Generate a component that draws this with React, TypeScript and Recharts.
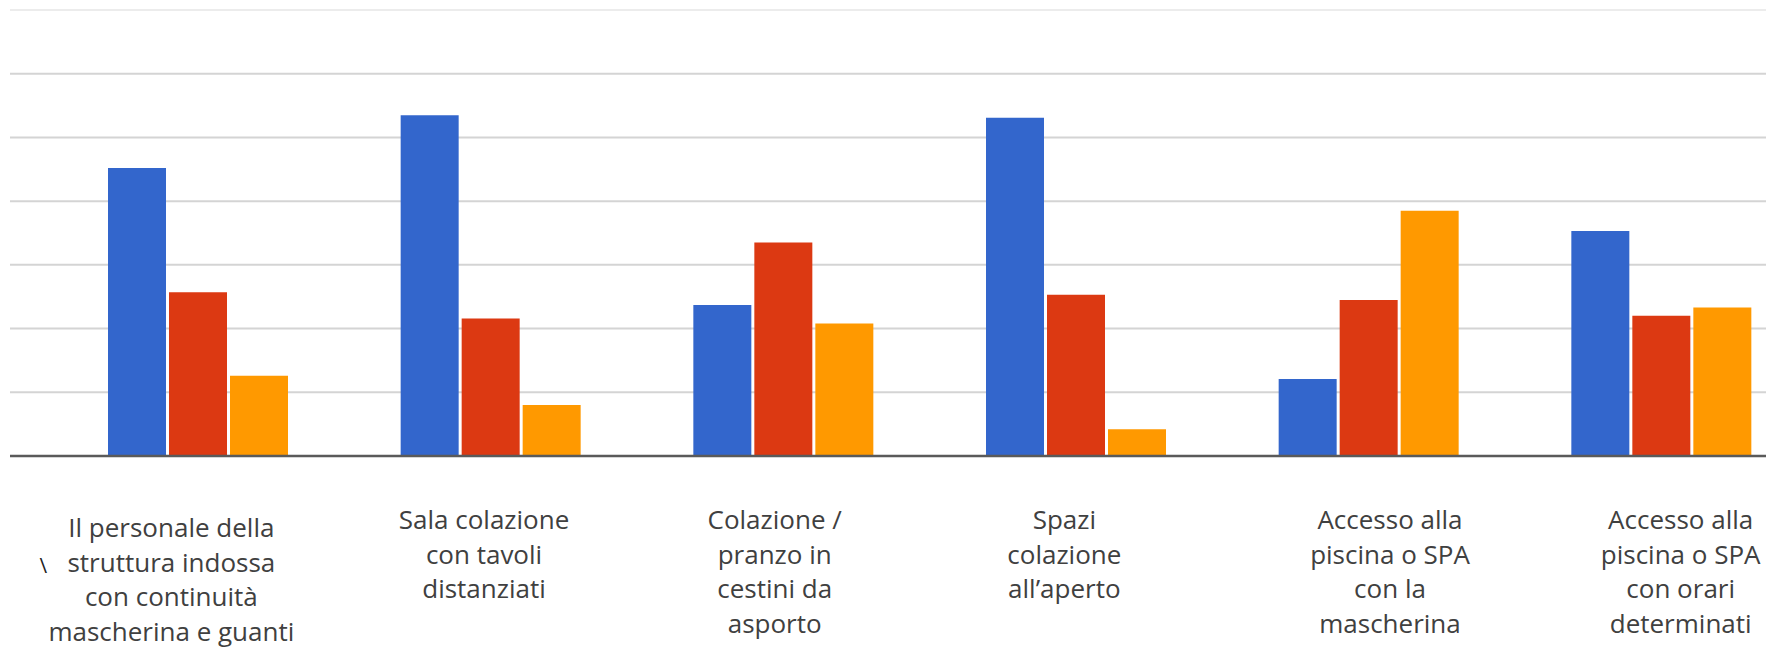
import React from 'react';
import { BarChart, Bar, XAxis, YAxis, CartesianGrid, ReferenceLine } from 'recharts';

// categories (label lines)
const categories: string[][] = [
    ['Il personale della', 'struttura indossa', 'con continuità', 'mascherina e guanti'],
    ['Sala colazione', 'con tavoli', 'distanziati'],
    ['Colazione /', 'pranzo in', 'cestini da', 'asporto'],
    ['Spazi', 'colazione', 'all\u2019aperto'],
    ['Accesso alla', 'piscina o SPA', 'con la', 'mascherina'],
    ['Accesso alla', 'piscina o SPA', 'con orari', 'determinati'],
];

// series values
const blueValues = [45.2, 53.5, 23.7, 53.1, 12.1, 35.3];
const redValues = [25.7, 21.6, 33.5, 25.3, 24.5, 22.0];
const orangeValues = [12.6, 8.0, 20.8, 4.2, 38.5, 23.3];

const gridTicks = [0, 10, 20, 30, 40, 50, 60];

// label nudges (the labels in the picture are not quite centred under the groups)
const labelDx = [-26, -6, -8, -11, 22, 20];
const labelDy = [8, 0, 0, 0, 0, 0];

const data = categories.map((lines, i) => ({
    name: String(i),
    blue: blueValues[i],
    red: redValues[i],
    orange: orangeValues[i],
}));

// eslint-disable-next-line @typescript-eslint/no-explicit-any
const renderTick = (props: any) => {
    const { x, y, payload } = props;
    const i = Number(payload.value);
    const lines = categories[i] || [];
    return (
        <g transform={`translate(${x + labelDx[i]},${y + 65 + labelDy[i]})`}>
            <text textAnchor="middle" fill="#404040" fontSize={26} fontFamily="'Open Sans', sans-serif">
                {lines.map((l, k) => (
                    <tspan key={k} x={0} y={k * 34.5}>{l}</tspan>
                ))}
            </text>
        </g>
    );
};

export default function App() {
    return (
        <div style={{ position: 'fixed', left: 0, top: 0, width: 1766, height: 648, overflow: 'hidden', background: '#fff' }}>
            <BarChart
                width={1848}
                height={648}
                data={data}
                margin={{ top: 10, right: 0, bottom: 0, left: 10 }}
                barCategoryGap={57}
                barGap={3}
            >
                <CartesianGrid vertical={false} stroke="#d4d4d4" strokeWidth={2} />
                <ReferenceLine y={70} stroke="#ececec" strokeWidth={2} />
                <YAxis hide domain={[0, 70]} ticks={gridTicks} />
                <XAxis
                    dataKey="name"
                    height={192}
                    padding={{ left: 41, right: 41 }}
                    tickLine={false}
                    axisLine={{ stroke: '#5a5a5a', strokeWidth: 2.5 }}
                    tick={renderTick}
                    interval={0}
                />
                <Bar dataKey="blue" fill="#3366cc" isAnimationActive={false} />
                <Bar dataKey="red" fill="#dc3912" isAnimationActive={false} />
                <Bar dataKey="orange" fill="#ff9900" isAnimationActive={false} />
            </BarChart>
            <div style={{ position: 'absolute', left: 40, top: 553, fontFamily: 'serif', fontSize: 24, fontWeight: 'bold', color: '#222', lineHeight: 1 }}>\</div>
        </div>
    );
}
